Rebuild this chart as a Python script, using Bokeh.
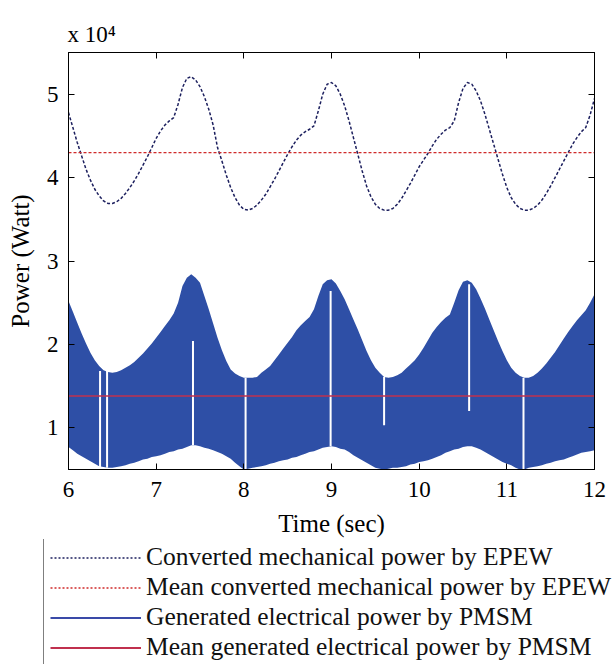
from bokeh.plotting import figure
from bokeh.models import (LinearAxis, FixedTicker, Legend, LegendItem,
                          ColumnDataSource, Range1d)
from bokeh.layouts import column
from bokeh.embed import file_html
from bokeh.resources import INLINE

# ---------------- data (power in units of 1e4 W) ----------------
time_s = [6.00, 6.05, 6.10, 6.15, 6.20, 6.25, 6.30, 6.35, 6.40, 6.45,
          6.50, 6.55, 6.60, 6.65, 6.70, 6.75, 6.80, 6.85, 6.90, 6.95,
          7.00, 7.05, 7.10, 7.15, 7.20, 7.25, 7.30, 7.35, 7.40, 7.45,
          7.50, 7.55, 7.60, 7.65, 7.70, 7.75, 7.80, 7.85, 7.90, 7.95,
          8.00, 8.05, 8.10, 8.15, 8.20, 8.25, 8.30, 8.35, 8.40, 8.45,
          8.50, 8.55, 8.60, 8.65, 8.70, 8.75, 8.80, 8.85, 8.90, 8.95,
          9.00, 9.05, 9.10, 9.15, 9.20, 9.25, 9.30, 9.35, 9.40, 9.45,
          9.50, 9.55, 9.60, 9.65, 9.70, 9.75, 9.80, 9.85, 9.90, 9.95,
          10.00, 10.05, 10.10, 10.15, 10.20, 10.25, 10.30, 10.35, 10.40, 10.45,
          10.50, 10.55, 10.60, 10.65, 10.70, 10.75, 10.80, 10.85, 10.90, 10.95,
          11.00, 11.05, 11.10, 11.15, 11.20, 11.25, 11.30, 11.35, 11.40, 11.45,
          11.50, 11.55, 11.60, 11.65, 11.70, 11.75, 11.80, 11.85, 11.90, 11.95,
          12.00]

mech_power = [4.78, 4.60, 4.42, 4.26, 4.10, 3.97, 3.86, 3.78, 3.72, 3.69,
              3.69, 3.71, 3.75, 3.81, 3.88, 3.96, 4.05, 4.15, 4.25, 4.36,
              4.47, 4.56, 4.63, 4.68, 4.72, 4.88, 5.08, 5.19, 5.21, 5.17,
              5.09, 4.97, 4.82, 4.63, 4.36, 4.20, 4.03, 3.88, 3.76, 3.67,
              3.62, 3.61, 3.63, 3.67, 3.73, 3.80, 3.89, 3.98, 4.08, 4.18,
              4.28, 4.37, 4.45, 4.51, 4.55, 4.58, 4.62, 4.80, 5.00, 5.12,
              5.14, 5.10, 5.00, 4.86, 4.68, 4.48, 4.28, 4.08, 3.90, 3.77,
              3.68, 3.63, 3.61, 3.61, 3.63, 3.68, 3.75, 3.84, 3.93, 4.03,
              4.13, 4.21, 4.29, 4.38, 4.46, 4.52, 4.57, 4.60, 4.68, 4.90,
              5.07, 5.14, 5.12, 5.04, 4.92, 4.76, 4.58, 4.40, 4.22, 4.04,
              3.88, 3.76, 3.68, 3.63, 3.61, 3.61, 3.63, 3.67, 3.73, 3.81,
              3.90, 4.00, 4.10, 4.20, 4.30, 4.40, 4.48, 4.55, 4.60, 4.75,
              4.95]

elec_upper = [2.52, 2.39, 2.26, 2.13, 2.01, 1.90, 1.81, 1.74, 1.69, 1.67,
              1.66, 1.67, 1.69, 1.72, 1.75, 1.79, 1.84, 1.89, 1.95, 2.01,
              2.08, 2.15, 2.22, 2.29, 2.37, 2.50, 2.70, 2.80, 2.84, 2.80,
              2.74, 2.58, 2.42, 2.25, 2.08, 1.93, 1.80, 1.70, 1.65, 1.62,
              1.60, 1.60, 1.60, 1.61, 1.66, 1.70, 1.74, 1.81, 1.88, 1.95,
              2.02, 2.09, 2.17, 2.23, 2.28, 2.33, 2.42, 2.58, 2.72, 2.77,
              2.78, 2.73, 2.64, 2.54, 2.42, 2.30, 2.18, 2.05, 1.92, 1.81,
              1.72, 1.66, 1.61, 1.60, 1.61, 1.63, 1.66, 1.71, 1.76, 1.81,
              1.88, 1.96, 2.05, 2.14, 2.21, 2.27, 2.32, 2.36, 2.50, 2.65,
              2.75, 2.77, 2.74, 2.66, 2.55, 2.43, 2.30, 2.17, 2.04, 1.92,
              1.81, 1.72, 1.66, 1.62, 1.60, 1.60, 1.62, 1.66, 1.71, 1.77,
              1.84, 1.91, 1.99, 2.07, 2.15, 2.22, 2.29, 2.35, 2.41, 2.50,
              2.60]

elec_lower = [0.77, 0.73, 0.69, 0.66, 0.63, 0.60, 0.57, 0.54, 0.53, 0.52,
              0.52, 0.53, 0.54, 0.55, 0.57, 0.58, 0.60, 0.62, 0.63, 0.65,
              0.66, 0.67, 0.69, 0.71, 0.72, 0.74, 0.75, 0.77, 0.79, 0.79,
              0.78, 0.76, 0.75, 0.73, 0.71, 0.69, 0.66, 0.63, 0.58, 0.54,
              0.50, 0.51, 0.52, 0.53, 0.54, 0.55, 0.57, 0.58, 0.60, 0.61,
              0.62, 0.64, 0.65, 0.67, 0.69, 0.71, 0.72, 0.74, 0.76, 0.77,
              0.78, 0.77, 0.75, 0.74, 0.71, 0.67, 0.64, 0.61, 0.58, 0.55,
              0.52, 0.51, 0.50, 0.51, 0.52, 0.52, 0.53, 0.54, 0.56, 0.57,
              0.59, 0.60, 0.61, 0.63, 0.65, 0.67, 0.70, 0.72, 0.74, 0.75,
              0.77, 0.78, 0.78, 0.76, 0.74, 0.71, 0.68, 0.65, 0.62, 0.59,
              0.57, 0.55, 0.52, 0.50, 0.50, 0.52, 0.53, 0.54, 0.55, 0.57,
              0.58, 0.60, 0.61, 0.62, 0.64, 0.66, 0.68, 0.70, 0.71, 0.72,
              0.73]

mean_mech = 4.30
mean_elec = 1.38

# white drop-outs in the electrical power trace
gap_t = [6.36, 6.44, 7.42, 8.02, 8.99, 9.60, 10.57, 11.19]
gap_lo = [0.53, 0.52, 0.79, 0.50, 0.78, 1.03, 1.20, 0.50]
gap_hi = [1.68, 1.68, 2.04, 1.60, 2.64, 1.61, 2.72, 1.60]

x_ticks = [6, 7, 8, 9, 10, 11, 12]
y_ticks = [1, 2, 3, 4, 5]
y_limits = [0.5, 5.5]
scale_text = "x 10\u2074"

legend_labels = ["Converted mechanical power by EPEW",
                 "Mean converted mechanical power by EPEW",
                 "Generated electrical power by PMSM",
                 "Mean generated electrical power by PMSM"]

# ---------------- styling ----------------
FONT = "Liberation Serif"
BLUE_FILL = "#2e4fa6"
NAVY = "#1c1f5e"
RED = "#d02a2a"
RED_MEAN_ELEC = "#c0304e"
BLUE_LEG = "#3a4aa8"

p = figure(width=616, height=539, output_backend="svg", toolbar_location=None,
           x_range=Range1d(x_ticks[0], x_ticks[-1]),
           y_range=Range1d(y_limits[0], y_limits[1]),
           min_border_left=68, min_border_right=22, min_border_top=52,
           min_border_bottom=68)
p.frame_align = False
p.grid.visible = False
p.outline_line_color = "black"
p.background_fill_color = "white"
p.border_fill_color = "white"

src = ColumnDataSource(dict(t=time_s, mech=mech_power, up=elec_upper, lo=elec_lower))

# electrical power envelope
p.varea(x="t", y1="lo", y2="up", source=src, fill_color=BLUE_FILL, fill_alpha=1.0)
p.segment(x0=gap_t, y0=gap_lo, x1=gap_t, y1=gap_hi, line_color="white", line_width=2)

t_ends = [time_s[0], time_s[-1]]
p.line(t_ends, [mean_elec, mean_elec], line_color=RED_MEAN_ELEC, line_width=1.5)
p.line(x="t", y="mech", source=src, line_color=NAVY, line_width=1.5, line_dash="3 2")
p.line(t_ends, [mean_mech, mean_mech], line_color=RED, line_width=1.2, line_dash="3 2")


def style_axis(ax, ticks, show_labels=True):
    ax.ticker = FixedTicker(ticks=ticks)
    ax.major_tick_in = 6
    ax.major_tick_out = 0
    ax.minor_tick_line_color = None
    ax.axis_line_color = "black"
    ax.major_tick_line_color = "black"
    ax.major_label_text_font = FONT
    ax.axis_label_text_font = FONT
    ax.axis_label_text_font_style = "normal"
    ax.axis_label_text_color = "black"
    if show_labels:
        ax.major_label_text_font_size = "23px"
        ax.major_label_text_color = "black"
    else:
        ax.major_label_overrides = {t: "" for t in ticks}
        ax.major_label_text_color = None
        ax.major_label_text_font_size = "2px"
        ax.major_label_standoff = 0


style_axis(p.xaxis[0], x_ticks)
p.xaxis[0].axis_label = "Time (sec)"
p.xaxis[0].axis_label_text_font_size = "25px"
p.xaxis[0].major_label_standoff = 12
p.xaxis[0].axis_label_standoff = 10

style_axis(p.yaxis[0], y_ticks)
p.yaxis[0].axis_label = "Power (Watt)"
p.yaxis[0].axis_label_text_font_size = "25px"
p.yaxis[0].major_label_standoff = 10
p.yaxis[0].axis_label_standoff = 10

top_ax = LinearAxis()
style_axis(top_ax, x_ticks, False)
p.add_layout(top_ax, "above")
right_ax = LinearAxis()
style_axis(right_ax, y_ticks, False)
p.add_layout(right_ax, "right")

# scale factor "x 10^4" as a left-aligned title
p.title.text = scale_text
p.title.align = "left"
p.title.text_font = FONT
p.title.text_font_size = "23px"
p.title.text_font_style = "normal"
p.title.text_color = "black"
p.title.offset = -1
p.title.standoff = 12

# ---------------- legend panel below the axes ----------------
leg = figure(width=616, height=125, output_backend="svg", toolbar_location=None,
             x_range=Range1d(0, 1), y_range=Range1d(0, 1), min_border=0,
             x_axis_location=None, y_axis_location=None)
leg.frame_align = False
leg.grid.visible = False
leg.outline_line_color = None
leg.border_fill_color = "white"
leg.background_fill_color = "white"

# legend proxies (their data lie outside this panel's ranges, so only the legend shows)
leg_src = ColumnDataSource(dict(t=time_s, mech=mech_power, up=elec_upper, lo=elec_lower))
l1 = leg.line(x="t", y="mech", source=leg_src, line_color=NAVY, line_width=1.3, line_dash="2 2")
l2 = leg.line(t_ends, [mean_mech, mean_mech], line_color=RED, line_width=1.3, line_dash="2 2")
l3 = leg.line(x="t", y="up", source=leg_src, line_color=BLUE_LEG, line_width=1.8)
l4 = leg.line(t_ends, [mean_elec, mean_elec], line_color=RED_MEAN_ELEC, line_width=1.8)

legend = Legend(items=[
    LegendItem(label=legend_labels[0], renderers=[l1]),
    LegendItem(label=legend_labels[1], renderers=[l2]),
    LegendItem(label=legend_labels[2], renderers=[l3]),
    LegendItem(label=legend_labels[3], renderers=[l4]),
], location=(43, -5))
legend.label_text_font = FONT
legend.label_text_font_size = "25.5px"
legend.label_text_color = "#111111"
legend.label_height = 29
legend.glyph_height = 29
legend.glyph_width = 91
legend.label_standoff = 5
legend.spacing = 0
legend.padding = 6
legend.margin = 0
legend.border_line_color = "black"
legend.border_line_width = 1
legend.background_fill_color = "white"
legend.background_fill_alpha = 1.0
leg.add_layout(legend, "center")

layout = column(p, leg, spacing=0)
open("out.html", "w").write(file_html(layout, INLINE))
